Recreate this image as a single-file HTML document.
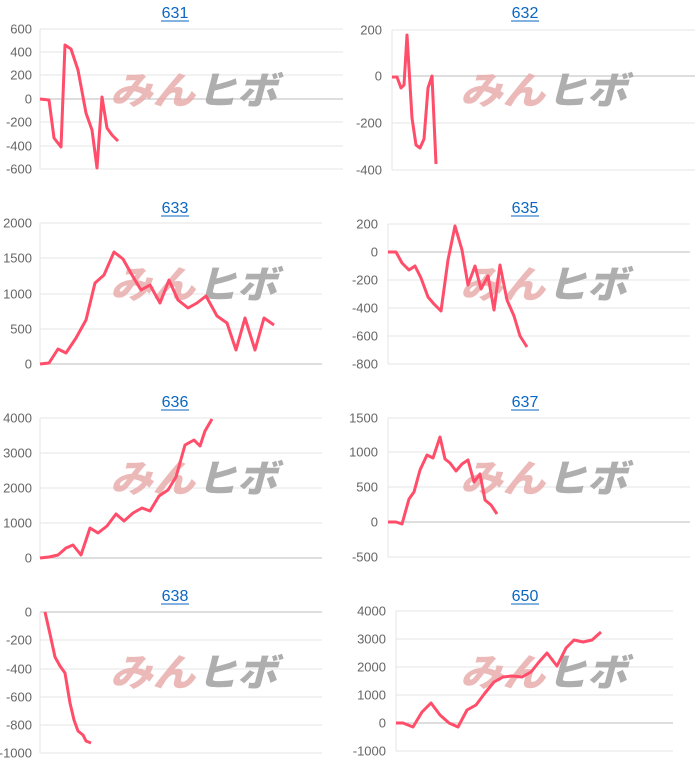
<!DOCTYPE html>
<html><head><meta charset="utf-8"><style>
html,body{margin:0;padding:0;background:#fff;}
svg{display:block;font-family:"Liberation Sans","Noto Sans CJK JP",sans-serif;}
</style></head><body>
<svg id="s" width="700" height="776" viewBox="0 0 700 776" xmlns="http://www.w3.org/2000/svg"></svg>
<script>
const P=[
 {t:"631",tx:175,ty:12,l:40,r:343,ticks:[["600",29],["400",52],["200",75],["0",99],["-200",122],["-400",146],["-600",169]],zero:99,lx:32,wx:0,wy:0,
  d:[[40,99],[49,100],[54,138],[61,147],[65,45],[71,49],[78,70],[86,113],[92,130],[97,168],[102,97],[107,128],[112,135],[118,141]]},
 {t:"632",tx:525,ty:12,l:392,r:695,ticks:[["200",30],["0",76],["-200",123],["-400",170]],zero:76,lx:382,wx:350,wy:0,
  d:[[392,77],[397,77],[401,88],[404,85],[407,35],[412,118],[416,145],[420,148],[424,139],[428,88],[432,76],[436,164]]},
 {t:"633",tx:175,ty:207,l:40,r:322,ticks:[["2000",223],["1500",258],["1000",294],["500",329],["0",364]],zero:364,lx:32,wx:0,wy:194,
  d:[[40,364],[49,363],[58,349],[66,353],[76,338],[86,320],[95,283],[104,275],[114,252],[123,259],[132,275],[141,290],[150,285],[160,303],[169,280],[178,300],[188,308],[197,303],[206,296],[217,316],[227,323],[236,350],[245,318],[255,350],[264,318],[274,325]]},
 {t:"635",tx:525,ty:207,l:388,r:690,ticks:[["200",224],["0",252],["-200",280],["-400",308],["-600",336],["-800",364]],zero:252,lx:378,wx:350,wy:194,
  d:[[388,252],[396,252],[402,263],[409,270],[415,266],[421,278],[428,297],[434,304],[441,311],[448,260],[455,226],[462,250],[468,285],[475,266],[481,289],[488,276],[494,310],[500,265],[507,300],[514,316],[520,336],[527,347]]},
 {t:"636",tx:175,ty:401,l:40,r:322,ticks:[["4000",418],["3000",453],["2000",488],["1000",523],["0",558]],zero:558,lx:32,wx:0,wy:388,
  d:[[40,558],[49,557],[58,555],[66,548],[73,545],[81,555],[90,528],[98,533],[107,526],[116,514],[124,521],[133,513],[142,508],[150,511],[159,496],[168,490],[176,477],[185,445],[194,440],[200,446],[205,431],[212,419]]},
 {t:"637",tx:525,ty:401,l:388,r:690,ticks:[["1500",418],["1000",452],["500",487],["0",522],["-500",557]],zero:522,lx:378,wx:350,wy:388,
  d:[[388,522],[396,522],[402,524],[409,499],[414,492],[420,470],[427,455],[433,458],[440,437],[445,459],[450,463],[456,471],[462,464],[468,460],[474,482],[480,474],[485,500],[491,505],[497,514]]},
 {t:"638",tx:175,ty:595,l:40,r:322,ticks:[["0",612],["-200",640],["-400",669],["-600",697],["-800",725],["-1000",753]],zero:612,lx:32,wx:0,wy:582,
  d:[[45,612],[50,634],[55,657],[60,666],[65,673],[70,703],[74,720],[78,731],[83,735],[86,741],[91,743]]},
 {t:"650",tx:525,ty:595,l:396,r:673,ticks:[["4000",611],["3000",639],["2000",667],["1000",695],["0",723],["-1000",751]],zero:723,lx:386,wx:350,wy:582,
  d:[[396,723],[403,723],[413,727],[422,712],[431,703],[440,715],[449,723],[458,727],[467,710],[476,705],[485,693],[494,682],[503,677],[512,676],[522,677],[531,672],[539,662],[547,653],[557,666],[566,648],[574,640],[583,642],[592,640],[601,632]]}
];
let h="";
for(const p of P){
  h+=`<g font-size="13" fill="#666">`;
  for(const [lab,y] of p.ticks){
    const c=(y===p.zero)?"#bdbdbd":"#e6e6e6";
    h+=`<line x1="${p.l}" x2="${p.r}" y1="${y}" y2="${y}" stroke="${c}" stroke-width="1"/>`;
    h+=`<text x="${p.lx}" y="${y+4.5}" text-anchor="end">${lab}</text>`;
  }
  const y0=p.ticks[0][1],y1=p.ticks[p.ticks.length-1][1];
  h+=`<line x1="${p.l}" x2="${p.l}" y1="${y0}" y2="${y1}" stroke="#e6e6e6"/></g>`;
  const wx=p.wx+110,wy=p.wy+104;
  h+=`<text x="${wx}" y="${wy}" font-size="38" font-weight="900" font-style="italic" fill="#e8a8a8" opacity="0.8" textLength="85" lengthAdjust="spacingAndGlyphs">みん</text>`;
  h+=`<text x="${wx+87}" y="${wy}" font-size="38" font-weight="900" font-style="italic" fill="#a6a6a6" opacity="0.9" textLength="80" lengthAdjust="spacingAndGlyphs">ヒボ</text>`;
  h+=`<polyline fill="none" stroke="#ff4d6a" stroke-width="3" stroke-linejoin="round" points="${p.d.map(a=>a.join(',')).join(' ')}"/>`;
  h+=`<text x="${p.tx}" y="${p.ty+6}" font-size="16" fill="#0a66c2" text-anchor="middle">${p.t}</text>`;
  h+=`<line x1="${p.tx-14}" x2="${p.tx+14}" y1="${p.ty+9}" y2="${p.ty+9}" stroke="#0a66c2" stroke-width="1"/>`;
}
document.getElementById("s").innerHTML=h;
</script>
</body></html>
